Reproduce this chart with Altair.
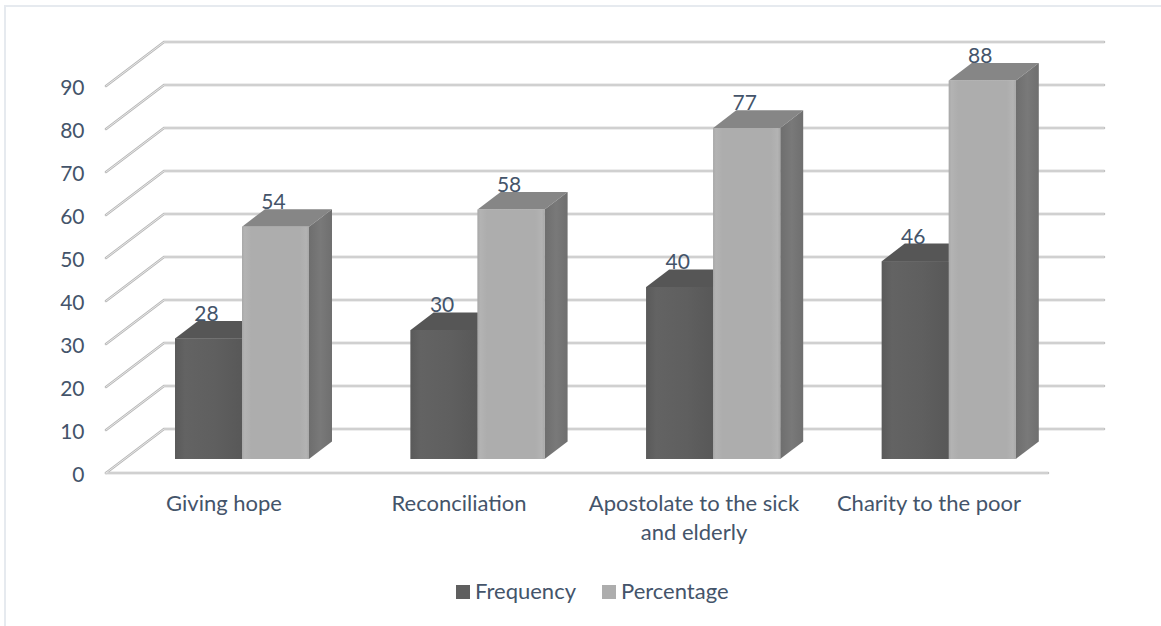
import altair as alt
import pandas as pd

# Chart values
categories = ["Giving hope", "Reconciliation", "Apostolate to the sick\nand elderly", "Charity to the poor"]
frequency = [28, 30, 40, 46]
percentage = [54, 58, 77, 88]
y_ticks = list(range(0, 100, 10))

# Drawing constants (pixels)
PX_PER_VALUE = 4.3
PX_PER_CATEGORY = 235.6
PLOT_W, PLOT_H = 998, 431
LEFT, TOP = 106, 42
WALL_DX, WALL_DY = 58, 44        # floor depth from front edge to back wall
BAR_LIFT = 14                    # front of the bars sits this far above the floor's front edge
BAR_DX, BAR_DY = 23, 17.6        # bar depth
BAR_START, BAR_W = 69, 67        # first bar's left edge, width of one bar
FRONT_END = 942                  # right end of the floor's front edge
FONT, TEXT = "Lato", "#44546A"
FONT_SIZE = 22
DIGIT_SIZE = 21


def cx(px):
    return px / PX_PER_CATEGORY


def vy(px):
    return px / PX_PER_VALUE


x_scale = alt.Scale(domain=[0, cx(PLOT_W)], nice=False, zero=False)
y_scale = alt.Scale(domain=[0, vy(PLOT_H)], nice=False, zero=False)

y_axis = alt.Axis(
    values=y_ticks, domain=False, ticks=False, grid=False, labelPadding=22, labelOffset=2,
    labelFont=FONT, labelFontSize=DIGIT_SIZE, labelColor=TEXT,
)


def X(field):
    return alt.X(field, type="quantitative", scale=x_scale, axis=None)


def Y(field):
    return alt.Y(field, type="quantitative", scale=y_scale, axis=y_axis, title=None)


# Gridlines: diagonal up the side wall, then along the back wall
grid_rows = []
for v in y_ticks:
    grid_rows += [
        {"level": v, "order": 0, "x": cx(0), "y": v},
        {"level": v, "order": 1, "x": cx(WALL_DX), "y": v + vy(WALL_DY)},
        {"level": v, "order": 2, "x": cx(PLOT_W), "y": v + vy(WALL_DY)},
    ]
grid_rows += [
    {"level": -1, "order": 0, "x": cx(0), "y": 0},
    {"level": -1, "order": 1, "x": cx(FRONT_END), "y": 0},
]
grid_df = pd.DataFrame(grid_rows)


def grid_layer(width, colour):
    return alt.Chart(grid_df).mark_line(strokeWidth=width, color=colour, strokeCap="round", clip=False).encode(
        x=X("x"), y=Y("y"), detail="level:N", order="order:Q"
    )


grid_outer = grid_layer(2.5, "#b8b8b8")
grid_inner = grid_layer(1, "#e8e8e8")

# One row per bar
bars = []
for i, cat in enumerate(categories):
    for s, (name, vals) in enumerate([("Frequency", frequency), ("Percentage", percentage)]):
        left = BAR_START + i * PX_PER_CATEGORY + s * BAR_W
        bars.append({
            "series": name, "bar": f"{i}-{s}", "value": vals[i],
            "x0": cx(left), "x1": cx(left + BAR_W),
            "y0": vy(BAR_LIFT), "y1": vals[i] + vy(BAR_LIFT),
        })
bars_df = pd.DataFrame(bars)

# Parallelograms for the top and the right-hand side of each bar
tops, sides = [], []
for b in bars:
    tops += [
        {"series": b["series"], "bar": b["bar"], "xa": b["x0"], "xb": b["x1"], "y": b["y1"]},
        {"series": b["series"], "bar": b["bar"], "xa": b["x0"] + cx(BAR_DX), "xb": b["x1"] + cx(BAR_DX), "y": b["y1"] + vy(BAR_DY)},
    ]
    sides += [
        {"series": b["series"], "bar": b["bar"], "x": b["x1"], "ya": b["y0"], "yb": b["y1"]},
        {"series": b["series"], "bar": b["bar"], "x": b["x1"] + cx(BAR_DX), "ya": b["y0"] + vy(BAR_DY), "yb": b["y1"] + vy(BAR_DY)},
    ]
tops_df = pd.DataFrame(tops)
sides_df = pd.DataFrame(sides)


def top_layer(series, colour):
    return alt.Chart(tops_df[tops_df.series == series]).mark_area(orient="horizontal", color=colour, clip=False).encode(
        y=Y("y"), x=X("xa"), x2="xb:Q", detail="bar:N"
    )


def gradient(stops):
    return alt.Gradient(
        gradient="linear", x1=0, x2=1, y1=0, y2=0,
        stops=[alt.GradientStop(offset=o, color=c) for o, c in stops],
    )


freq_top = top_layer("Frequency", "#565656")
pct_top = top_layer("Percentage", "#868686")
pct_side = alt.Chart(sides_df[sides_df.series == "Percentage"]).mark_area(
    orient="vertical", clip=False,
    color=gradient([(0, "#6e6e6e"), (0.5, "#797979"), (1, "#6f6f6f")]),
).encode(x=X("x"), y=Y("ya"), y2="yb:Q", detail="bar:N")

front = alt.Chart(bars_df).mark_rect(clip=False).encode(
    x=X("x0"), x2="x1:Q", y=Y("y0"), y2="y1:Q",
    color=alt.Color(
        "series:N",
        scale=alt.Scale(domain=["Frequency", "Percentage"], range=["#5f5f5f", "#adadad"]),
        legend=alt.Legend(
            title=None, orient="none", legendX=346, legendY=539, direction="horizontal",
            symbolType="square", symbolSize=196, symbolStrokeWidth=0, columnPadding=22,
            labelFont=FONT, labelFontSize=FONT_SIZE, labelColor=TEXT, labelOffset=1,
        ),
    ),
)


def front_shade(series, stops):
    return alt.Chart(bars_df[bars_df.series == series]).mark_rect(clip=False, color=gradient(stops)).encode(
        x=X("x0"), x2="x1:Q", y=Y("y0"), y2="y1:Q"
    )


freq_shade = front_shade("Frequency", [(0, "#5a5a5a"), (0.15, "#636363"), (0.6, "#5f5f5f"), (1, "#585858")])
pct_shade = front_shade(
    "Percentage",
    [(0, "#a8a8a8"), (0.04, "#b3b3b3"), (0.14, "#adadad"), (0.86, "#adadad"), (0.96, "#b3b3b3"), (1, "#a8a8a8")],
)

# Value labels above the back edge of each bar top
labels_df = bars_df.assign(
    lx=lambda d: (d.x0 + d.x1) / 2 - cx(2),
    ly=lambda d: d.y1 + vy(BAR_DY),
)
labels = alt.Chart(labels_df).mark_text(
    font=FONT, fontSize=DIGIT_SIZE, color=TEXT, baseline="alphabetic", clip=False
).encode(x=X("lx"), y=Y("ly"), text="value:Q")

# Category names under the floor
cat_df = pd.DataFrame({
    "name": categories,
    "x": [cx(118 + i * 235) for i in range(len(categories))],
    "y": [-vy(38)] * len(categories),
})
cat_text = alt.Chart(cat_df).mark_text(
    font=FONT, fontSize=FONT_SIZE, color=TEXT, baseline="alphabetic", lineBreak="\n", lineHeight=29, clip=False
).encode(x=X("x"), y=Y("y"), text="name:N")

# Thin outline along the top and left of the canvas
frame_df = pd.DataFrame({
    "x": [cx(5 - LEFT), cx(5 - LEFT), cx(1161 - LEFT)],
    "y": [vy(-153), vy(PLOT_H + TOP - 6), vy(PLOT_H + TOP - 6)],
    "order": [0, 1, 2],
})
frame = alt.Chart(frame_df).mark_line(color="#e6eaef", strokeWidth=2, clip=False).encode(
    x=X("x"), y=Y("y"), order="order:Q"
)

chart = alt.layer(
    frame, grid_outer, grid_inner, freq_top, pct_top, pct_side, front, freq_shade, pct_shade, labels, cat_text
).properties(
    width=PLOT_W, height=PLOT_H, background="white",
    padding={"left": LEFT, "top": TOP, "right": 1161 - LEFT - PLOT_W, "bottom": 626 - TOP - PLOT_H},
    autosize=alt.AutoSizeParams(type="none"),
).configure_view(stroke=None)

chart.save("out.html", embed_options={"renderer": "svg", "actions": False})
